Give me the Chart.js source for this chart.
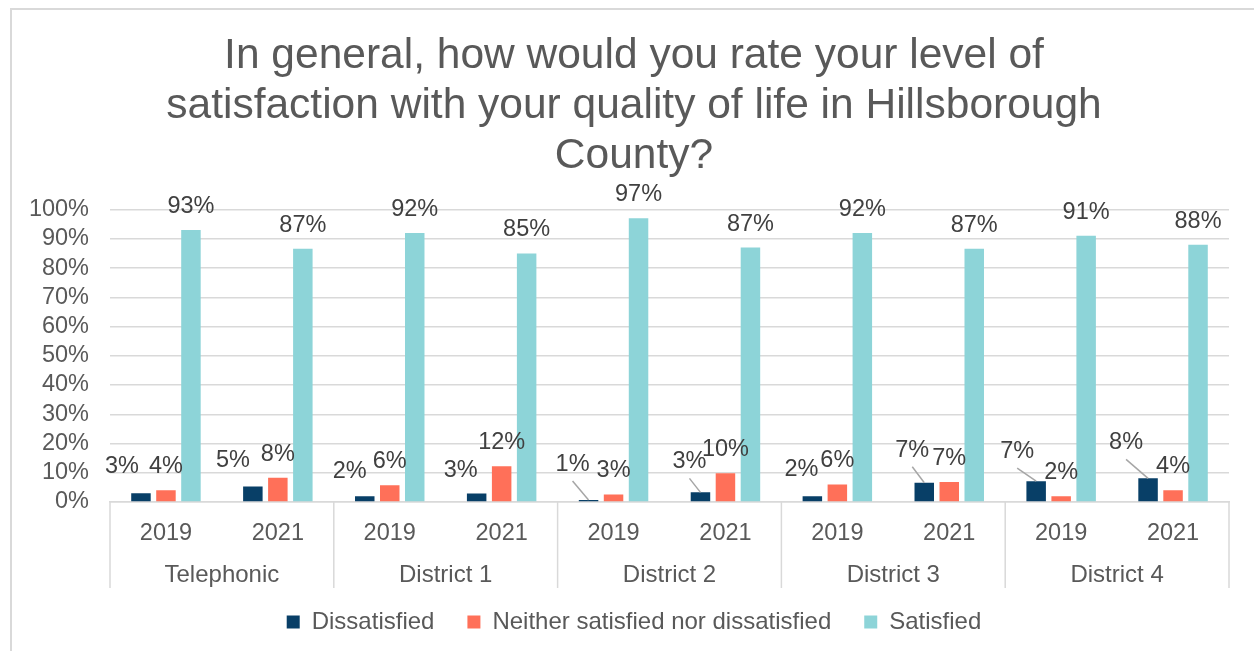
<!DOCTYPE html>
<html>
<head>
<meta charset="utf-8">
<script src="https://cdn.jsdelivr.net/npm/chart.js@4.4.1/dist/chart.umd.min.js"></script>
<style>
html,body{margin:0;padding:0;background:#fff;overflow:hidden;}
#frame{position:absolute;left:10px;top:8px;width:1300px;height:700px;border-left:2px solid #d9d9d9;border-top:2px solid #d9d9d9;}
#c{position:absolute;left:0;top:0;}
</style>
</head>
<body>
<div id="frame"></div>
<canvas id="c" width="1254" height="651"></canvas>
<script>
// ---- data ----
const groups = ['Telephonic', 'District 1', 'District 2', 'District 3', 'District 4'];
const years = ['2019', '2021', '2019', '2021', '2019', '2021', '2019', '2021', '2019', '2021'];
const dissatisfied = [3.0, 5.3, 2.0, 2.9, 0.7, 3.3, 2.0, 6.6, 7.1, 8.1];
const neither = [4.0, 8.3, 5.7, 12.2, 2.6, 9.8, 6.0, 6.8, 2.0, 4.0];
const satisfied = [93, 86.6, 92, 85, 97, 87, 92, 86.6, 91, 88];
const seriesNames = ['Dissatisfied', 'Neither satisfied nor dissatisfied', 'Satisfied'];
const yTickValues = [0, 10, 20, 30, 40, 50, 60, 70, 80, 90, 100];
const titleLines = ['In general, how would you rate your level of', 'satisfaction with your quality of life in Hillsborough', 'County?'];

// ---- label placement (layout only) ----
const dissNudgeX = [-19, -20, -15, -16, -16, -11, -11, -12, -19, -22];
const dissNudgeY = [-3, -2, -1, 0, -12, -7, -3, -9, -6, -12];
const dissLeader = [false, false, false, false, true, true, false, true, true, true];

const FONT = "'Liberation Sans', Arial, sans-serif";
const TXT = '#595959';
const GRID = '#d9d9d9';
Chart.defaults.font.family = FONT;

const valueLabels = {
  id: 'valueLabels',
  afterDatasetsDraw(chart) {
    const ctx = chart.ctx;
    ctx.save();
    ctx.font = '23.5px ' + FONT;
    ctx.textAlign = 'center';
    ctx.textBaseline = 'alphabetic';
    chart.data.datasets.forEach((ds, di) => {
      const meta = chart.getDatasetMeta(di);
      meta.data.forEach((bar, i) => {
        let nx = 0, ny = 0, leader = false;
        if (di === 0) { nx = dissNudgeX[i]; ny = dissNudgeY[i]; leader = dissLeader[i]; }
        const lx = bar.x + nx;
        const ly = bar.y - 17 + ny;
        if (leader) {
          ctx.strokeStyle = '#a6a6a6';
          ctx.lineWidth = 1.5;
          ctx.beginPath();
          ctx.moveTo(lx, ly + 10);
          ctx.lineTo(bar.x, bar.y);
          ctx.stroke();
        }
        ctx.fillStyle = '#404040';
        ctx.fillText(Math.round(ds.data[i]) + '%', lx, ly);
      });
    });
    ctx.restore();
  }
};

const groupAxis = {
  id: 'groupAxis',
  afterDraw(chart) {
    const ctx = chart.ctx;
    const area = chart.chartArea;
    const step = (area.right - area.left) / years.length;
    const per = years.length / groups.length;
    ctx.save();
    ctx.strokeStyle = GRID;
    ctx.lineWidth = 1.5;
    for (let g = 0; g <= groups.length; g++) {
      const px = area.left + g * per * step;
      ctx.beginPath();
      ctx.moveTo(px, area.bottom);
      ctx.lineTo(px, area.bottom + 86);
      ctx.stroke();
    }
    ctx.font = '24px ' + FONT;
    ctx.fillStyle = TXT;
    ctx.textAlign = 'center';
    ctx.textBaseline = 'alphabetic';
    groups.forEach((name, g) => {
      const cx = area.left + (g + 0.5) * per * step;
      ctx.fillText(name, cx, area.bottom + 80);
    });
    ctx.restore();
  }
};

new Chart(document.getElementById('c'), {
  type: 'bar',
  data: {
    labels: years,
    datasets: [
      { label: seriesNames[0], data: dissatisfied, backgroundColor: '#083f67' },
      { label: seriesNames[1], data: neither, backgroundColor: '#ff7059' },
      { label: seriesNames[2], data: satisfied, backgroundColor: '#8dd4d8' }
    ]
  },
  options: {
    responsive: false,
    animation: false,
    devicePixelRatio: 1,
    datasets: { bar: { categoryPercentage: 0.67, barPercentage: 0.78 } },
    layout: { padding: { left: 30, right: 16, top: 0, bottom: 7 } },
    plugins: {
      tooltip: { enabled: false },
      title: {
        display: true,
        text: titleLines,
        color: TXT,
        font: { size: 42.5, weight: 'normal', lineHeight: 1.165 },
        padding: { top: 32, bottom: 29 }
      },
      legend: {
        position: 'bottom',
        labels: {
          boxWidth: 13,
          boxHeight: 13,
          padding: 33,
          color: TXT,
          font: { size: 24 }
        }
      }
    },
    scales: {
      x: {
        grid: { display: false },
        border: { display: true, color: GRID, width: 1.5 },
        ticks: { color: TXT, font: { size: 23.5 }, padding: 9, maxRotation: 0, autoSkip: false },
        afterFit(scale) { scale.height = 75; }
      },
      y: {
        min: 0,
        max: 100,
        afterBuildTicks(scale) { scale.ticks = yTickValues.map(v => ({ value: v })); },
        afterFit(scale) { scale.width = 80; },
        grid: { color: GRID, lineWidth: 1.5, drawTicks: false },
        border: { display: false },
        ticks: { color: TXT, font: { size: 23.5 }, padding: 21, autoSkip: false, callback: v => v + '%' }
      },
      yPad: {
        position: 'right',
        display: true,
        grid: { display: false, drawTicks: false },
        border: { display: false },
        ticks: { display: false },
        afterFit(scale) { scale.width = 9; }
      }
    }
  },
  plugins: [valueLabels, groupAxis]
});
</script>
</body>
</html>
